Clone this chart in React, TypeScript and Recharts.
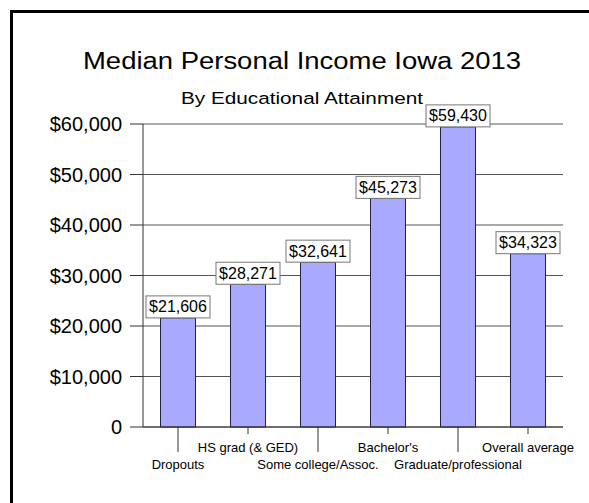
import React from "react";
import { BarChart, Bar, XAxis, YAxis, CartesianGrid, LabelList } from "recharts";

const categories = [
  "Dropouts",
  "HS grad (& GED)",
  "Some college/Assoc.",
  "Bachelor's",
  "Graduate/professional",
  "Overall average",
];
const incomes = [21606, 28271, 32641, 45273, 59430, 34323];
const yTicks = [0, 10000, 20000, 30000, 40000, 50000, 60000];

const data = categories.map((name, i) => ({ name, income: incomes[i] }));

const money = (v: number) => "$" + v.toLocaleString("en-US");
const yFormat = (v: number) => (v === 0 ? "0" : money(v));

const FONT = "'Liberation Sans', Arial, sans-serif";

// staggered category labels: even index -> low row with long tick
const XTick = (props: any) => {
  const { x, y, payload, index } = props;
  const low = index % 2 === 0;
  return (
    <g>
      <line x1={x} y1={y} x2={x} y2={y + (low ? 25 : 7)} stroke="#333" />
      <text
        x={x}
        y={y + (low ? 42 : 25)}
        textAnchor="middle"
        fontSize={13}
        fontFamily={FONT}
        fill="#000"
      >
        {payload.value}
      </text>
    </g>
  );
};

const ValueBox = (props: any) => {
  const { x, y, width, value } = props;
  const cx = x + width / 2;
  const w = 64;
  const h = 22;
  return (
    <g>
      <rect x={cx - w / 2} y={y - h} width={w} height={h} fill="#fff" stroke="#777" />
      <text
        x={cx}
        y={y - 5.5}
        textAnchor="middle"
        fontSize={16}
        fontFamily={FONT}
        fill="#000"
      >
        {money(value)}
      </text>
    </g>
  );
};

export default function App() {
  return (
    <div
      style={{
        position: "fixed",
        left: 0,
        top: 0,
        width: 589,
        height: 503,
        overflow: "hidden",
        background: "#fff",
      }}
    >
      <div
        style={{
          position: "absolute",
          left: 10,
          top: 10,
          width: 700,
          height: 700,
          border: "3px solid #000",
        }}
      />
      <div style={{ position: "absolute", left: 0, top: 0 }}>
        <BarChart
          width={589}
          height={503}
          data={data}
          margin={{ top: 124, right: 26, left: 10, bottom: 26 }}
          barCategoryGap="25%"
        >
          <CartesianGrid horizontal vertical={false} stroke="#555" />
          <XAxis
            dataKey="name"
            height={50}
            axisLine={{ stroke: "#333" }}
            tickLine={false}
            tickSize={0}
            tickMargin={0}
            interval={0}
            tick={<XTick />}
          />
          <YAxis
            width={133}
            domain={[0, 60000]}
            ticks={yTicks}
            tickFormatter={yFormat}
            axisLine={{ stroke: "#333" }}
            tickLine={{ stroke: "#333" }}
            tickSize={13}
            tickMargin={8}
            tick={{ fill: "#000", fontSize: 20, fontFamily: FONT }}
          />
          <Bar
            dataKey="income"
            fill="#a9aaff"
            stroke="#222244"
            strokeWidth={1}
            isAnimationActive={false}
          >
            <LabelList dataKey="income" content={<ValueBox />} />
          </Bar>
        </BarChart>
      </div>
      <svg
        width={589}
        height={503}
        style={{ position: "absolute", left: 0, top: 0, pointerEvents: "none" }}
      >
        <text
          x={302}
          y={68.5}
          textAnchor="middle"
          fontSize={23.3}
          fontFamily={FONT}
          textLength={438}
          lengthAdjust="spacingAndGlyphs"
        >
          Median Personal Income Iowa 2013
        </text>
        <text
          x={302}
          y={104}
          textAnchor="middle"
          fontSize={16.3}
          fontFamily={FONT}
          textLength={242}
          lengthAdjust="spacingAndGlyphs"
        >
          By Educational Attainment
        </text>
      </svg>
    </div>
  );
}
